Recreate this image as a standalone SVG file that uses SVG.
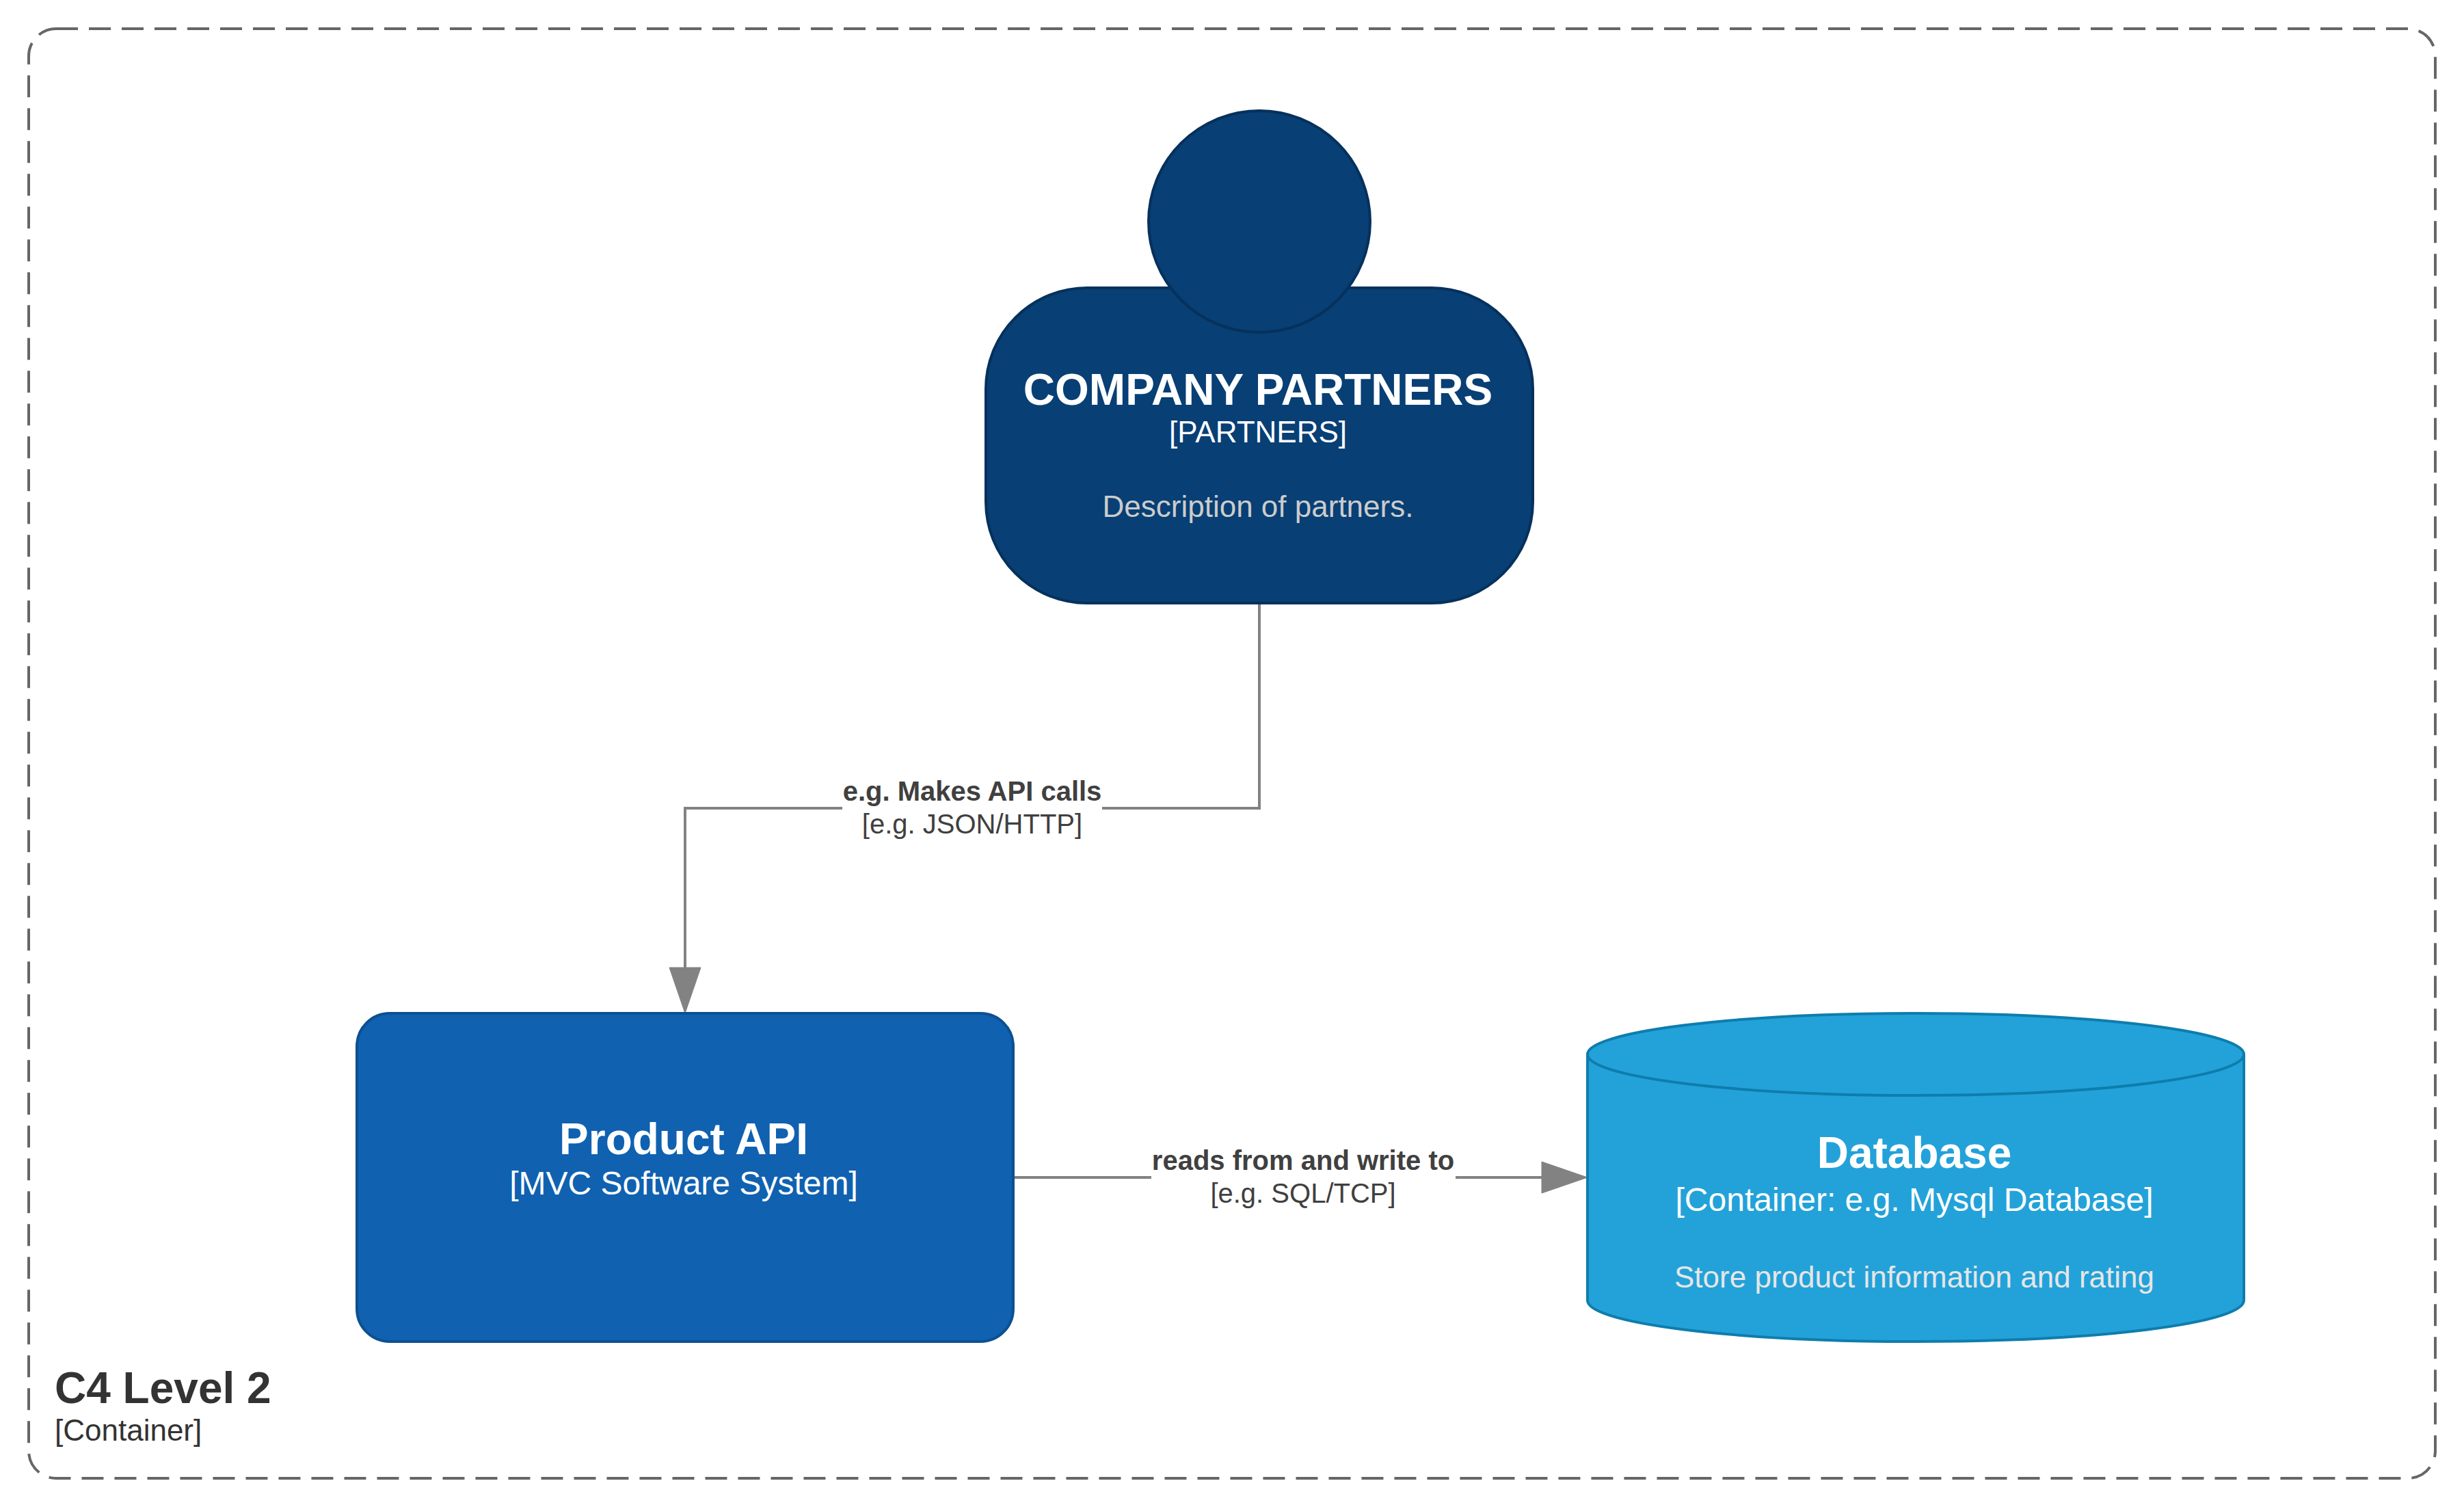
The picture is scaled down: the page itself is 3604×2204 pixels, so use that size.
<svg xmlns="http://www.w3.org/2000/svg" width="3604" height="2204" viewBox="0 0 3604 2204">
<style>
text{font-family:"Liberation Sans",Arial,sans-serif;text-anchor:middle}
.t{font-size:64px;font-weight:700;fill:#fff}
.s{font-size:44px;fill:#fff}
.sl{font-size:48px;fill:#fff}
.d{font-size:44px}
.el{font-size:40px;font-weight:700;fill:#404040}
.es{font-size:40px;fill:#404040}
.edge{fill:none;stroke:#828282;stroke-width:4}
.lb{fill:#fff}
.f{font-weight:700;font-size:64px;fill:#333;text-anchor:start}
.fs{font-size:44px;fill:#333;text-anchor:start}
</style>
<defs>
<marker id="arrow" markerUnits="userSpaceOnUse" markerWidth="80" markerHeight="60" refX="0" refY="30" orient="auto" overflow="visible">
<path d="M0 7L67 30L0 53Z" fill="#828282" stroke="#828282" stroke-width="1"/>
</marker>
</defs>
<rect width="3604" height="2204" fill="#fff"/>
<g id="boundary">
<rect x="42" y="42" width="3520" height="2120" rx="40" ry="40" fill="none" stroke="#666" stroke-width="4" stroke-dasharray="32 16"/>
<text class="f" x="80" y="2052">C4 Level 2</text>
<text class="fs" x="80" y="2107">[Container]</text>
</g>
<g id="connectors">
<path class="edge" d="M1842 882L1842 1182L1002 1182L1002 1415" marker-end="url(#arrow)"/>
<rect class="lb" x="1232" y="1138" width="380" height="92"/>
<text class="el" x="1422" y="1171">e.g. Makes API calls</text>
<text class="es" x="1422" y="1219">[e.g. JSON/HTTP]</text>
<path class="edge" d="M1482 1722L2255 1722" marker-end="url(#arrow)"/>
<rect class="lb" x="1684" y="1678" width="445" height="92"/>
<text class="el" x="1906" y="1711">reads from and write to</text>
<text class="es" x="1906" y="1759">[e.g. SQL/TCP]</text>
</g>
<g id="company-partners">
<rect x="1442" y="421" width="800" height="461" rx="148" ry="148" fill="#083F75" stroke="#06315C" stroke-width="4"/>
<circle cx="1842" cy="324" r="162" fill="#083F75" stroke="#06315C" stroke-width="4"/>
<text class="t" x="1840" y="592">COMPANY PARTNERS</text>
<text class="s" x="1840" y="647">[PARTNERS]</text>
<text class="d" x="1840" y="756" fill="#ccc">Description of partners.</text>
</g>
<g id="product-api">
<rect x="522" y="1482" width="960" height="480" rx="48" ry="48" fill="#1061B0" stroke="#0D5091" stroke-width="4"/>
<text class="t" x="1000" y="1688">Product API</text>
<text class="sl" x="1000" y="1747">[MVC Software System]</text>
</g>
<g id="database">
<path d="M2322 1542A480 60 0 0 1 3282 1542L3282 1902A480 60 0 0 1 2322 1902Z" fill="#23A2D9" stroke="#0E7DAD" stroke-width="4"/>
<path d="M3282 1542A480 60 0 0 1 2322 1542" fill="none" stroke="#0E7DAD" stroke-width="4"/>
<text class="t" x="2800" y="1708">Database</text>
<text class="sl" x="2800" y="1771">[Container: e.g. Mysql Database]</text>
<text class="d" x="2800" y="1883" fill="#E6E6E6">Store product information and rating</text>
</g>
</svg>
